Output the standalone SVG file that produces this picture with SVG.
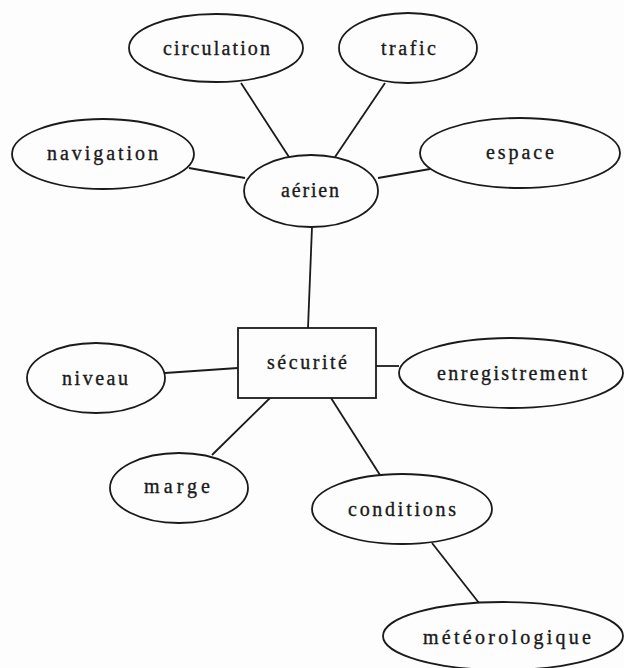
<svg xmlns="http://www.w3.org/2000/svg" width="624" height="668" viewBox="0 0 624 668">
  <style>
    .node ellipse, .node rect { fill: none; stroke: #1a1a1a; stroke-width: 1.8; }
    .edges line { stroke: #1a1a1a; stroke-width: 1.8; }
    text { font-family: "Liberation Serif", "Times New Roman", "DejaVu Serif", serif; font-size: 20px; fill: #1a1a1a; stroke: #1a1a1a; stroke-width: 0.35; text-anchor: middle; }
  </style>
  <rect x="0" y="0" width="624" height="668" fill="#fdfdfd"/>

  <!-- connectors -->
  <g class="edges">
    <line x1="241" y1="83" x2="289" y2="157"/>
    <line x1="385" y1="83" x2="335" y2="157"/>
    <line x1="189" y1="168" x2="245" y2="178"/>
    <line x1="378" y1="178" x2="430" y2="169"/>
    <line x1="312" y1="227" x2="308" y2="328"/>
    <line x1="165" y1="373" x2="238" y2="368"/>
    <line x1="376" y1="366" x2="399" y2="366"/>
    <line x1="270" y1="398" x2="212" y2="455"/>
    <line x1="331" y1="398" x2="380" y2="475"/>
    <line x1="432" y1="543" x2="479" y2="603"/>
  </g>

  <!-- nodes -->
  <g id="circulation" class="node">
    <ellipse cx="216" cy="48" rx="87" ry="34"/>
    <text x="216.5" y="55" textLength="107" lengthAdjust="spacing">circulation</text>
  </g>
  <g id="trafic" class="node">
    <ellipse cx="408" cy="48" rx="69" ry="35"/>
    <text x="408.5" y="55" textLength="55" lengthAdjust="spacing">trafic</text>
  </g>
  <g id="navigation" class="node">
    <ellipse cx="103" cy="154" rx="91" ry="35"/>
    <text x="102.5" y="160" textLength="111" lengthAdjust="spacing">navigation</text>
  </g>
  <g id="espace" class="node">
    <ellipse cx="520" cy="153" rx="100" ry="35"/>
    <text x="520" y="159" textLength="68" lengthAdjust="spacing">espace</text>
  </g>
  <g id="aerien" class="node">
    <ellipse cx="311" cy="191" rx="67" ry="36"/>
    <text x="310" y="197" textLength="58" lengthAdjust="spacing">aérien</text>
  </g>
  <g id="securite" class="node">
    <rect x="238" y="328" width="138" height="70"/>
    <text x="307" y="369" textLength="80" lengthAdjust="spacing">sécurité</text>
  </g>
  <g id="niveau" class="node">
    <ellipse cx="96" cy="378" rx="69" ry="35"/>
    <text x="95" y="385" textLength="66" lengthAdjust="spacing">niveau</text>
  </g>
  <g id="enregistrement" class="node">
    <ellipse cx="511" cy="373" rx="112" ry="35"/>
    <text x="512" y="380" textLength="150" lengthAdjust="spacing">enregistrement</text>
  </g>
  <g id="marge" class="node">
    <ellipse cx="179" cy="488" rx="69" ry="35"/>
    <text x="177" y="493" textLength="66" lengthAdjust="spacing">marge</text>
  </g>
  <g id="conditions" class="node">
    <ellipse cx="402" cy="509" rx="90" ry="35"/>
    <text x="402" y="516" textLength="108" lengthAdjust="spacing">conditions</text>
  </g>
  <g id="meteorologique" class="node">
    <ellipse cx="503" cy="636" rx="120" ry="34"/>
    <text x="507" y="644" textLength="168" lengthAdjust="spacing">météorologique</text>
  </g>
</svg>
